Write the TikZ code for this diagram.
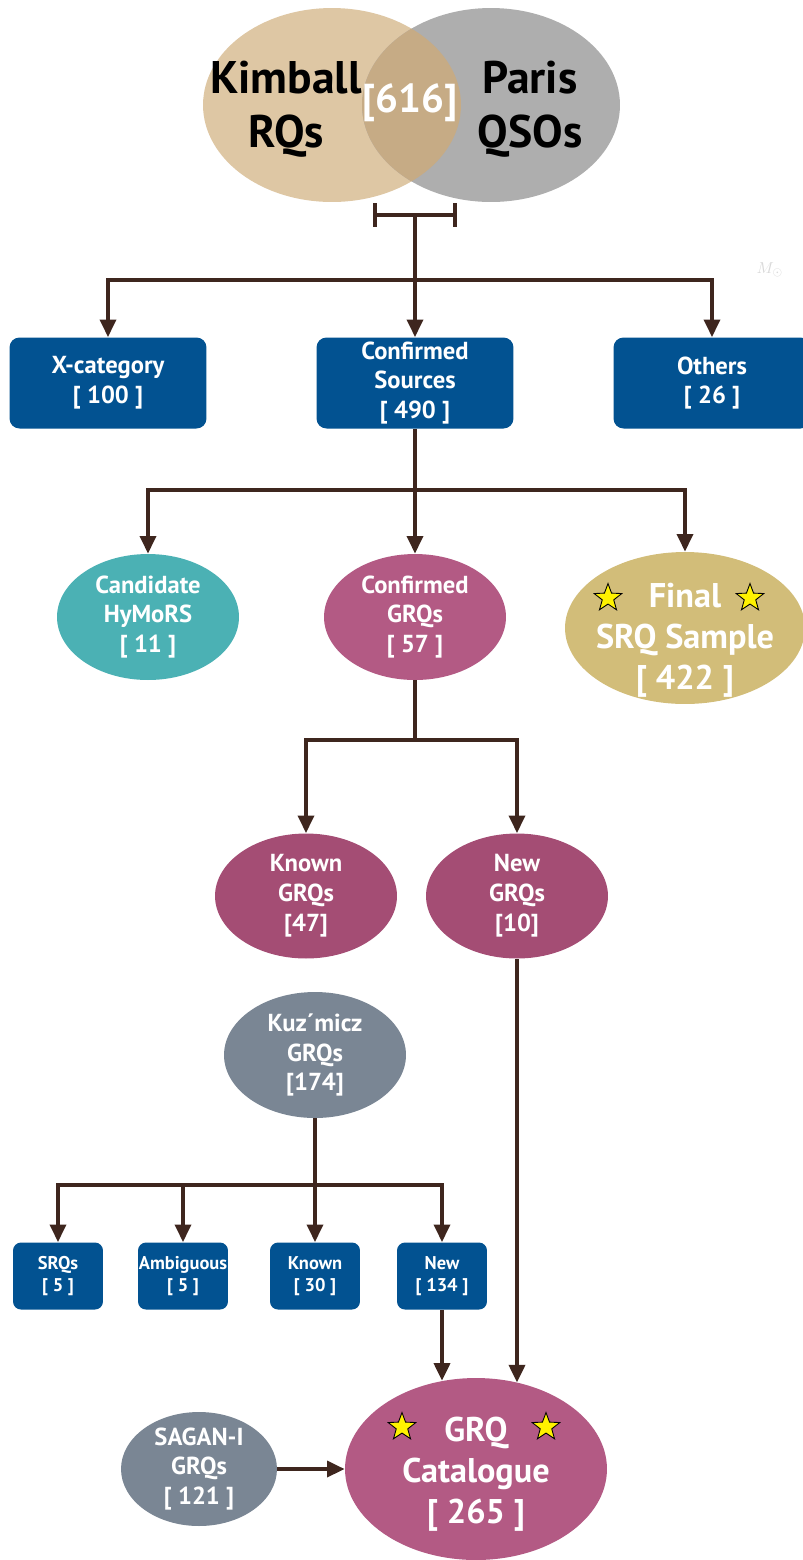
\documentclass[tikz,border=0pt]{standalone}
\usepackage{fontspec}
\setmainfont{PT Sans}
\usetikzlibrary{positioning,arrows.meta,shapes.geometric}
\newcommand{\tally}[1]{[~#1~]}
\definecolor{linkc}{RGB}{62,38,30}
\definecolor{boxc}{RGB}{2,82,145}
\definecolor{kimc}{RGB}{222,199,164}
\definecolor{parc}{RGB}{174,174,174}
\definecolor{bothc}{RGB}{198,171,133}
\definecolor{hymc}{RGB}{75,177,180}
\definecolor{grqc}{RGB}{179,90,132}
\definecolor{subgrqc}{RGB}{164,77,116}
\definecolor{srqc}{RGB}{210,189,121}
\definecolor{litc}{RGB}{122,134,148}
\tikzset{
  catbox/.style  = {fill=boxc, rounded corners=0.2cm, text=white, align=center, inner sep=0pt,
                    minimum width=3.94cm, minimum height=1.82cm, font=\bfseries\fontsize{14}{17}\selectfont},
  subbox/.style  = {catbox, rounded corners=0.16cm, minimum width=1.8cm, minimum height=1.34cm,
                    font=\bfseries\fontsize{10.5}{12.5}\selectfont},
  blob/.style    = {ellipse, inner sep=0pt, minimum width=3.64cm, minimum height=2.52cm},
  blobtxt/.style = {text=white, align=center, font=\bfseries\fontsize{14}{17}\selectfont},
  bigtxt/.style  = {blobtxt, font=\bfseries\fontsize{19.5}{23.5}\selectfont},
  venntxt/.style = {align=center, font=\bfseries\fontsize{26}{31}\selectfont},
  goldstar/.style = {star, star points=5, star point ratio=2.4, fill=yellow, draw=black,
                     line width=0.5pt, minimum size=0.58cm, inner sep=0pt},
  link/.style    = {line width=2.2pt, draw=linkc},
  flow/.style    = {link, -{Triangle[length=10pt, width=9pt]}},
}
\begin{document}
\begin{tikzpicture}[x=0.02cm, y=-0.02cm]
\useasboundingbox (0,0) rectangle (803,1560);

% --- venn of the two parent samples ------------------------------------
\coordinate (kimball) at (332,105);
\coordinate (paris) at (491,105);
\fill[kimc] (kimball) ellipse [x radius=2.58cm, y radius=1.94cm];
\fill[parc] (paris) ellipse [x radius=2.58cm, y radius=1.94cm];
\begin{scope}
  \clip (kimball) ellipse [x radius=2.58cm, y radius=1.94cm];
  \fill[bothc] (paris) ellipse [x radius=2.58cm, y radius=1.94cm];
\end{scope}
\node[venntxt] (kimtxt) at (286,109) {Kimball\\RQs};
\node[venntxt] (partxt) at (530,109) {Paris\\QSOs};
\node[venntxt, text=white, font=\bfseries\fontsize{23}{28}\selectfont] (overlap) at (410,103) {[616]};
\node[text=black!15, font=\small] (msun) at (770,270) {$M_\odot$};

% --- first split --------------------------------------------------------
\coordinate (brk) at (415,215);
\coordinate (fork1) at (415,280);
\draw[link] (375,203) -- (375,227) (375,215) -- (455,215) (455,203) -- (455,227);
\draw[link] (brk) -- (fork1);
\node[catbox] (xcat) at (108,383) {X-category\\\tally{100}};
\node[catbox] (confsrc) at (415,383) {Confirmed\\Sources\\\tally{490}};
\node[catbox] (others) at (712,383) {Others\\\tally{26}};
\foreach \n in {xcat,confsrc,others} \draw[flow] (fork1) -| (\n.north);

% --- confirmed sources --------------------------------------------------
\coordinate (fork2) at (415,490);
\draw[link] (confsrc.south) -- (fork2);
\node[blob, fill=hymc, label={[blobtxt]center:Candidate\\HyMoRS\\\tally{11}}] (hymors) at (148,617) {};
\node[blob, fill=grqc, label={[blobtxt]center:Confirmed\\GRQs\\\tally{57}}] (confgrq) at (415,617) {};
\node[blob, fill=srqc, minimum width=4.8cm, minimum height=3.04cm,
      label={[bigtxt, yshift=-7pt]center:Final\\SRQ Sample\\\tally{422}}] (final) at (685,628) {};
\node[goldstar] (srqstarL) at (608,598) {};
\node[goldstar] (srqstarR) at (750,598) {};
\foreach \n in {hymors,confgrq,final} \draw[flow] (fork2) -| (\n.north);

% --- confirmed GRQs -----------------------------------------------------
\coordinate (fork3) at (415,740);
\draw[link] (confgrq.south) -- (fork3);
\node[blob, fill=subgrqc, minimum height=2.5cm, label={[blobtxt]center:Known\\GRQs\\{[47]}}] (known) at (306,896) {};
\node[blob, fill=subgrqc, minimum height=2.5cm, label={[blobtxt]center:New\\GRQs\\{[10]}}] (newgrq) at (517,896) {};
\foreach \n in {known,newgrq} \draw[flow] (fork3) -| (\n.north);

% --- Kuzmicz sample -----------------------------------------------------
\node[blob, fill=litc, label={[blobtxt]center:Kuz´micz\\GRQs\\{[174]}}] (kuzmicz) at (315,1055) {};
\coordinate (fork4) at (315,1185);
\draw[link] (kuzmicz.south) -- (fork4);
\node[subbox] (srqs) at (58,1276) {SRQs\\\tally{5}};
\node[subbox] (ambig) at (183,1276) {Ambiguous\\\tally{5}};
\node[subbox] (knownbox) at (315,1276) {Known\\\tally{30}};
\node[subbox] (newbox) at (442,1276) {New\\\tally{134}};
\foreach \n in {srqs,ambig,knownbox,newbox} \draw[flow] (fork4) -| (\n.north);

% --- final catalogue ----------------------------------------------------
\node[blob, fill=grqc, minimum width=5.24cm, minimum height=3.64cm,
      label={[bigtxt, yshift=-3pt]center:GRQ\\Catalogue\\\tally{265}}] (cat) at (476,1469) {};
\node[goldstar] (catstarL) at (402,1427) {};
\node[goldstar] (catstarR) at (546,1427) {};
\node[blob, fill=litc, minimum width=3.12cm, minimum height=2.28cm,
      label={[blobtxt]center:SAGAN-I\\GRQs\\\tally{121}}] (sagan) at (199,1469) {};
\draw[flow] (newbox.south) -- (newbox.south |- cat.111);
\draw[flow] (newgrq.south) -- (newgrq.south |- cat.64);
\draw[flow] (sagan.east) -- (cat.west);

\end{tikzpicture}
\end{document}
